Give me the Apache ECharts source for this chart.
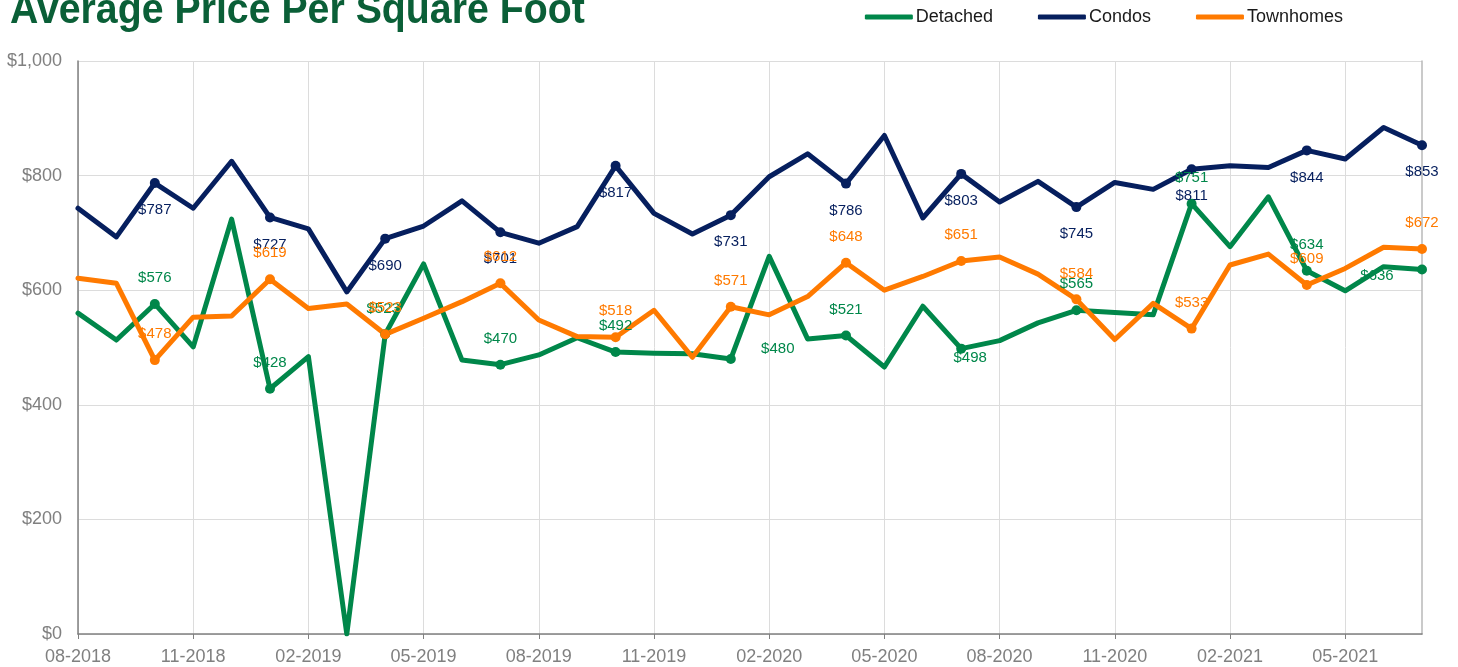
<!DOCTYPE html>
<html>
<head>
<meta charset="utf-8">
<title>Average Price Per Square Foot</title>
<script src="https://cdn.jsdelivr.net/npm/echarts@6/dist/echarts.min.js"></script>
<style>
  html, body { margin: 0; padding: 0; background: #fff; }
  #chart { width: 1458px; height: 667px; }
</style>
</head>
<body>
<div id="chart"></div>
<script>
// Monthly categories, 08-2018 .. 07-2021
const months = [
  "08-2018", "09-2018", "10-2018", "11-2018", "12-2018", "01-2019",
  "02-2019", "03-2019", "04-2019", "05-2019", "06-2019", "07-2019",
  "08-2019", "09-2019", "10-2019", "11-2019", "12-2019", "01-2020",
  "02-2020", "03-2020", "04-2020", "05-2020", "06-2020", "07-2020",
  "08-2020", "09-2020", "10-2020", "11-2020", "12-2020", "01-2021",
  "02-2021", "03-2021", "04-2021", "05-2021", "06-2021", "07-2021"
];

const detached = [
  560, 513, 576, 501, 724, 428, 484, 0, 523, 646, 478, 470,
  487, 517, 492, 490, 489, 480, 659, 515, 521, 466, 572, 498,
  512, 543, 565, 561, 557, 751, 676, 763, 634, 599, 641, 636
];
const condos = [
  743, 693, 787, 743, 825, 727, 707, 597, 690, 712, 756, 701,
  682, 711, 817, 734, 698, 731, 798, 838, 786, 870, 726, 803,
  754, 790, 745, 788, 776, 811, 817, 814, 844, 829, 884, 853
];
const townhomes = [
  621, 612, 478, 553, 555, 619, 568, 576, 523, 551, 580, 612,
  548, 519, 518, 565, 483, 571, 557, 589, 648, 600, 624, 651,
  658, 628, 584, 514, 577, 533, 644, 663, 609, 638, 675, 672
];

// points that carry a marker + value label (every quarter)
const labelled = [2, 5, 8, 11, 14, 17, 20, 23, 26, 29, 32, 35];

const yTicks = [0, 200, 400, 600, 800, 1000];

const COLORS = {
  Detached: "#00874a",
  Condos: "#061f5e",
  Townhomes: "#ff7a00",
};

// label placement (offset from the point centre)
const LABEL_DEFAULT = {
  Detached: [0, -26],
  Condos: [0, 27],
  Townhomes: [0, -26],
};
const LABEL_OVERRIDE = {
  Detached: { 8: [-2, -25], 17: [47, -10], 23: [9, 9], 35: [-45, 6] },
};

function buildData(name, values) {
  return values.map((v, i) => {
    if (!labelled.includes(i)) return { value: v, symbol: "none" };
    const off = (LABEL_OVERRIDE[name] && LABEL_OVERRIDE[name][i]) || LABEL_DEFAULT[name];
    return {
      value: v,
      symbol: "circle",
      symbolSize: 10,
      label: {
        show: true,
        position: "inside",
        offset: off,
        formatter: "${c}",
        color: COLORS[name],
        fontSize: 15,
        fontFamily: "Liberation Sans",
      },
    };
  });
}

function lineSeries(name, values) {
  return {
    name,
    type: "line",
    data: buildData(name, values),
    symbol: "circle",
    symbolSize: 10,
    showSymbol: true,
    showAllSymbol: true,
    itemStyle: { color: COLORS[name] },
    lineStyle: { width: 5, color: COLORS[name], cap: "round", join: "round" },
    emphasis: { disabled: true },
    z: 2,
  };
}

const chart = echarts.init(document.getElementById("chart"));
chart.setOption({
  animation: false,
  backgroundColor: "#fff",
  textStyle: { fontFamily: "Liberation Sans" },
  // condensed bold title, partly cut off by the top edge like the original
  graphic: [
    {
      type: "text",
      x: 10,
      y: 11,
      scaleX: 0.935,
      style: {
        text: "Average Price Per Square Foot",
        font: 'bold 42px "Liberation Sans"',
        fill: "#0a5f37",
        textAlign: "left",
        verticalAlign: "middle",
      },
    },
  ],
  legend: {
    right: 110,
    top: 3,
    itemWidth: 48,
    itemHeight: 5,
    itemGap: 45,
    icon: "roundRect",
    selectedMode: false,
    textStyle: { fontSize: 18, color: "#1a1a1a", fontFamily: "Liberation Sans", padding: [0, 0, 0, -2] },
    data: ["Detached", "Condos", "Townhomes"],
  },
  grid: { left: 78, right: 36, top: 61, bottom: 33 },
  xAxis: {
    type: "category",
    data: months,
    boundaryGap: false,
    axisLine: { lineStyle: { color: "#808080", width: 1.5 } },
    axisTick: { interval: 2, length: 5, lineStyle: { color: "#808080" } },
    axisLabel: { interval: 2, margin: 14, fontSize: 18, color: "#808080" },
    splitLine: { show: true, interval: 2, lineStyle: { color: "#dcdcdc" } },
  },
  yAxis: [
    {
      type: "value",
      min: yTicks[0],
      max: yTicks[yTicks.length - 1],
      interval: 200,
      axisLine: { show: true, lineStyle: { color: "#808080", width: 1.5 } },
      axisTick: { show: false },
      axisLabel: {
        margin: 16,
        fontSize: 18,
        color: "#808080",
        formatter: (v) => "$" + v.toLocaleString("en-US"),
      },
      splitLine: { lineStyle: { color: "#dcdcdc" } },
    },
    {
      type: "value",
      position: "right",
      min: yTicks[0],
      max: yTicks[yTicks.length - 1],
      interval: 200,
      axisLine: { show: true, lineStyle: { color: "#b8b8b8", width: 1.5 } },
      axisTick: { show: false },
      axisLabel: { show: false },
      splitLine: { show: false },
    },
  ],
  series: [
    lineSeries("Detached", detached),
    lineSeries("Condos", condos),
    lineSeries("Townhomes", townhomes),
  ],
});
</script>
</body>
</html>
